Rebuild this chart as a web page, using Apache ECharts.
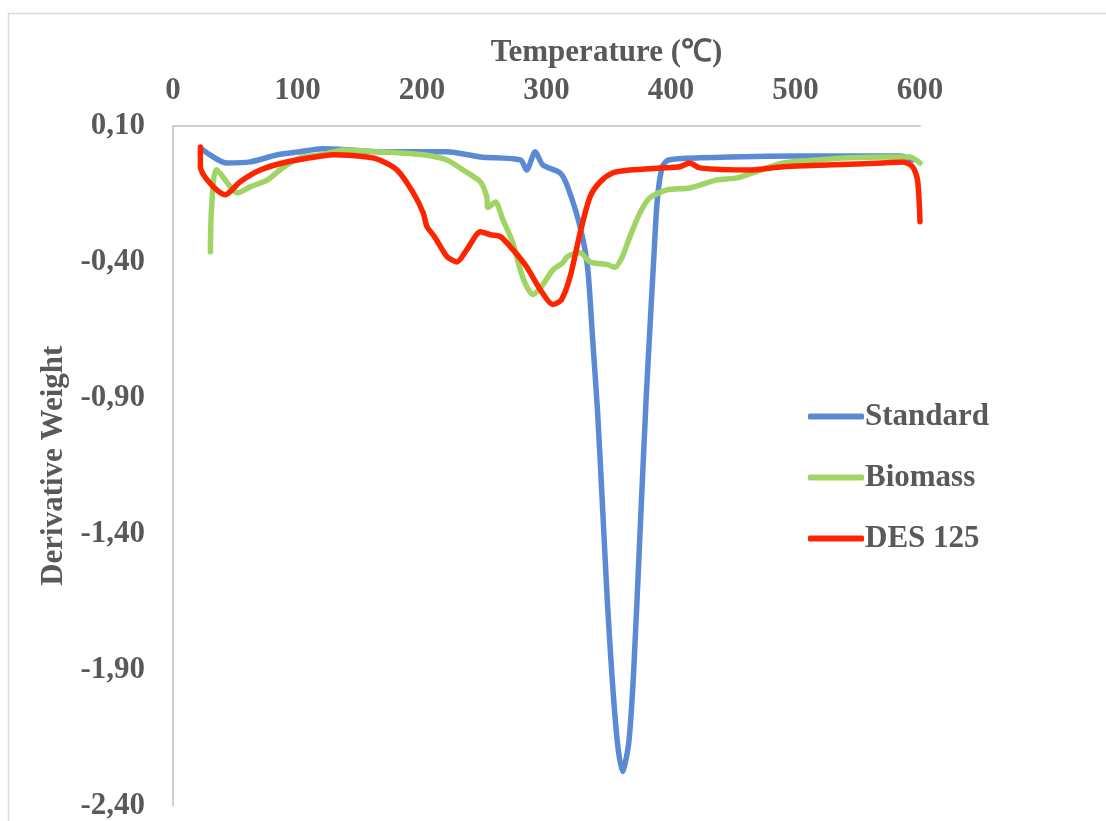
<!DOCTYPE html>
<html>
<head>
<meta charset="utf-8">
<script src="https://cdn.jsdelivr.net/npm/echarts@6/dist/echarts.min.js"></script>
<style>
  html, body { margin: 0; padding: 0; background: #fff; }
  #chart { width: 1106px; height: 821px; }
</style>
</head>
<body>
<div id="chart"></div>
<script>
// data (temperature in C, derivative weight)
var stdT = [24, 43, 62, 84, 102, 120, 142, 166, 220, 247, 279, 284, 291, 297, 311, 317, 327, 333, 337, 341, 345, 349, 353, 357, 361, 366, 370, 375, 380, 383, 386, 389, 393, 398, 423, 504, 584, 594];
var stdW = [0.012, -0.036, -0.032, -0.006, 0.005, 0.016, 0.012, 0.005, 0.005, -0.014, -0.025, -0.062, 0.005, -0.043, -0.073, -0.124, -0.271, -0.42, -0.68, -0.95, -1.30, -1.66, -1.95, -2.17, -2.275, -2.172, -1.908, -1.409, -0.906, -0.65, -0.40, -0.172, -0.05, -0.025, -0.017, -0.010, -0.010, -0.025];

var bioT = [30, 31, 35, 52, 62, 76, 88, 102, 120, 137, 166, 201, 220, 233, 247, 252, 253, 259, 265, 273, 279, 284, 289, 297, 305, 313, 317, 327, 335, 349, 355, 361, 367, 375, 383, 397, 415, 437, 453, 472, 490, 517, 544, 570, 592, 600];
var bioW = [-0.363, -0.20, -0.061, -0.146, -0.124, -0.098, -0.054, -0.017, -0.005, 0.012, 0.005, -0.006, -0.025, -0.062, -0.106, -0.16, -0.20, -0.18, -0.245, -0.33, -0.43, -0.49, -0.52, -0.484, -0.43, -0.403, -0.38, -0.366, -0.40, -0.41, -0.42, -0.38, -0.307, -0.22, -0.164, -0.135, -0.128, -0.098, -0.091, -0.062, -0.036, -0.025, -0.017, -0.014, -0.014, -0.036];

var desT = [22, 22, 42, 54, 70, 88, 110, 129, 156, 166, 180, 193, 201, 204, 210, 220, 228, 236, 247, 255, 263, 273, 284, 295, 305, 312, 319, 327, 335, 343, 353, 367, 394, 407, 415, 423, 463, 490, 530, 570, 586, 594, 598, 600];
var desW = [0.023, -0.05, -0.153, -0.105, -0.062, -0.036, -0.017, -0.006, -0.014, -0.025, -0.062, -0.146, -0.22, -0.27, -0.307, -0.38, -0.40, -0.355, -0.289, -0.30, -0.307, -0.355, -0.418, -0.502, -0.557, -0.539, -0.454, -0.293, -0.16, -0.106, -0.073, -0.062, -0.054, -0.05, -0.036, -0.054, -0.062, -0.05, -0.043, -0.036, -0.032, -0.05, -0.098, -0.252];

var seriesNames = ['Standard', 'Biomass', 'DES 125'];
var seriesColors = ['#5A8AD3', '#A0D465', '#FF2400'];

function pairs(t, w) {
    return t.map(function (v, i) { return [v, w[i]]; });
}

var font = 'Liberation Serif';
var grey = '#595959';

var myChart = echarts.init(document.getElementById('chart'));

var option = {
    backgroundColor: '#fff',
    animation: false,
    graphic: [{
        type: 'rect',
        shape: { x: 8.5, y: 13.5, width: 1200, height: 900 },
        style: { fill: 'none', stroke: '#d9d9d9', lineWidth: 1.5 },
        silent: true
    }],
    grid: { left: 173, top: 126, right: 186, bottom: 14 },
    legend: {
        orient: 'vertical',
        left: 803,
        top: 396,
        itemWidth: 56,
        itemHeight: 6,
        itemGap: 30,
        icon: 'roundRect',
        textStyle: { fontFamily: font, fontWeight: 'bold', fontSize: 31, color: grey, padding: [0, 0, 0, -4] },
        data: seriesNames
    },
    xAxis: {
        type: 'value',
        position: 'top',
        min: 0,
        max: 600,
        interval: 100,
        name: 'Temperature (℃)',
        nameLocation: 'middle',
        nameGap: 58,
        nameTextStyle: { fontFamily: font, fontWeight: 'bold', fontSize: 31, color: grey, padding: [0, 0, 0, 120] },
        axisLine: { onZero: false, lineStyle: { color: '#d0d0d0', width: 2 } },
        axisTick: { show: false },
        splitLine: { show: false },
        axisLabel: { fontFamily: font, fontWeight: 'bold', fontSize: 31, color: grey, margin: 20 }
    },
    yAxis: {
        type: 'value',
        min: -2.4,
        max: 0.1,
        interval: 0.5,
        name: 'Derivative Weight',
        nameLocation: 'middle',
        nameGap: 100,
        nameTextStyle: { fontFamily: font, fontWeight: 'bold', fontSize: 31, color: grey },
        axisLine: { show: true, onZero: false, lineStyle: { color: '#d0d0d0', width: 2 } },
        axisTick: { show: false },
        splitLine: { show: false },
        axisLabel: {
            fontFamily: font, fontWeight: 'bold', fontSize: 31, color: grey, margin: 28,
            padding: [6, 0, 0, 0],
            formatter: function (v) { return v.toFixed(2).replace('.', ','); }
        }
    },
    series: [
        { name: seriesNames[0], type: 'line', data: pairs(stdT, stdW) },
        { name: seriesNames[1], type: 'line', data: pairs(bioT, bioW) },
        { name: seriesNames[2], type: 'line', data: pairs(desT, desW) }
    ].map(function (s, i) {
        s.showSymbol = false;
        s.symbol = 'none';
        s.smooth = 0.25;
        s.color = seriesColors[i];
        s.lineStyle = { width: 5.5, color: seriesColors[i], cap: 'round', join: 'round' };
        return s;
    })
};

myChart.setOption(option);
</script>
</body>
</html>
